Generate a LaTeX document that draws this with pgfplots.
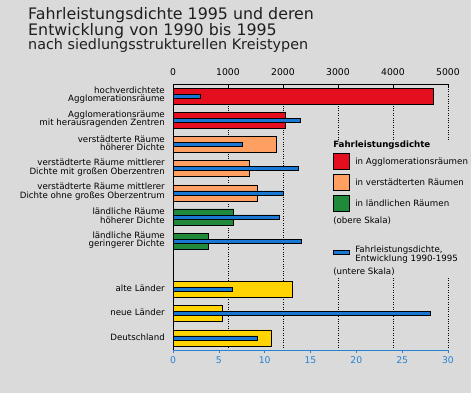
\documentclass[border=0pt]{standalone}
\usepackage{fontspec}
\setmainfont{DejaVu Sans}
\usepackage{pgfplots}
\pgfplotsset{compat=1.18}
\definecolor{bg}{RGB}{218,218,218}
\definecolor{cred}{RGB}{228,14,30}
\definecolor{corange}{RGB}{255,160,98}
\definecolor{cgreen}{RGB}{30,138,58}
\definecolor{cyellow}{RGB}{255,212,0}
\definecolor{cblue}{RGB}{24,120,212}
\definecolor{ctick}{RGB}{40,130,210}
\pgfplotsset{
  sqlegend/.style={legend image code/.code={\draw[##1] (0bp,-8bp) rectangle (16bp,8bp);}},
  barlegend/.style={legend image code/.code={\draw[##1] (0bp,-2bp) rectangle (16bp,2bp);}},
}
\newcommand{\lf}{\fontsize{8.7}{8.5}\selectfont}
\newcommand{\tf}{\fontsize{9.3}{10}\selectfont}
\begin{document}
\begin{tikzpicture}
\path[use as bounding box, fill=bg] (0,0) rectangle (471bp,393bp);
\node[anchor=base west, inner sep=0pt, text=black!88] at (28bp,373bp) {\fontsize{15.9}{16}\selectfont Fahrleistungsdichte 1995 und deren};
\node[anchor=base west, inner sep=0pt, text=black!88] at (28bp,357.5bp) {\fontsize{15.9}{16}\selectfont Entwicklung von 1990 bis 1995};
\node[anchor=base west, inner sep=0pt, text=black!88] at (28bp,343bp) {\fontsize{14.4}{14}\selectfont nach siedlungsstrukturellen Kreistypen};

\begin{axis}[
  at={(173bp,43bp)}, anchor=south west, scale only axis,
  width=275bp, height=266bp,
  xmin=0, xmax=5000, ymin=-0.5, ymax=10.5,
  axis x line*=top, axis y line*=left,
  axis line style={black, line width=0.8bp, -},
  xtick={0,1000,...,5000},
  /pgf/number format/set thousands separator={},
  /pgf/number format/assume math mode=true,
  xticklabel style={font=\tf, yshift=4.5bp},
  xmajorgrids, major grid style={black, dotted, line width=0.7bp},
  tick align=inside, major tick length=3bp,
  xtick style={black, line width=0.6bp},
  ytick={10,9,8,7,6,5,4,2,1,0},
  yticklabels={{hochverdichtete\\Agglomerationsräume},
    {Agglomerationsräume\\mit herausragenden Zentren},
    {verstädterte Räume\\höherer Dichte},
    {verstädterte Räume mittlerer\\Dichte mit großen Oberzentren},
    {verstädterte Räume mittlerer\\Dichte ohne großes Oberzentrum},
    {ländliche Räume\\höherer Dichte},
    {ländliche Räume\\geringerer Dichte},
    {alte Länder}, {neue Länder}, {Deutschland}},
  yticklabel style={font=\lf, align=right, inner sep=0pt, xshift=-5bp, yshift=1bp},
  ytick style={draw=none},
  xbar, bar width=16bp,
  legend cell align=left,
  legend style={at={(axis description cs:0.5818,0.7876)}, anchor=north west,
    draw=none, fill=bg, inner sep=0pt, row sep=4.5bp, column sep=5.5bp,
    font=\lf, nodes={inner sep=0pt}},
]
\addplot[bar shift=0pt, fill=cred, draw=black, line width=0.6bp, forget plot] coordinates {(4730,10) (2040,9)};
\addplot[bar shift=0pt, fill=corange, draw=black, line width=0.6bp, forget plot] coordinates {(1880,8) (1390,7) (1530,6)};
\addplot[bar shift=0pt, fill=cgreen, draw=black, line width=0.6bp, forget plot] coordinates {(1100,5) (640,4)};
\addplot[bar shift=0pt, fill=cyellow, draw=black, line width=0.6bp, forget plot] coordinates {(2170,2) (900,1) (1790,0)};
\addlegendimage{empty legend}
\addlegendentry{\hspace*{-22bp}\textbf{Fahrleistungsdichte}}
\addlegendimage{fill=cred, draw=black, line width=0.6bp, sqlegend}
\addlegendentry{in Agglomerationsräumen}
\addlegendimage{fill=corange, draw=black, line width=0.6bp, sqlegend}
\addlegendentry{in verstädterten Räumen}
\addlegendimage{fill=cgreen, draw=black, line width=0.6bp, sqlegend}
\addlegendentry{in ländlichen Räumen}
\addlegendimage{empty legend}
\addlegendentry{\hspace*{-22bp}(obere Skala)}
\addlegendimage{empty legend}
\addlegendentry{\rule{0pt}{14bp}}
\node[anchor=base east, inner sep=0pt, font=\fontsize{10.5}{10}\selectfont\itshape] at ([yshift=27bp]axis description cs:0.982,1) {1000 Kfz-km/km²};
\end{axis}

\begin{axis}[
  at={(173bp,43bp)}, anchor=south west, scale only axis,
  width=275bp, height=266bp,
  xmin=0, xmax=30, ymin=-0.5, ymax=10.5,
  axis x line*=bottom, axis y line=none,
  axis line style={ctick, line width=0.8bp, -},
  xtick={0,5,...,30}, ytick=\empty,
  /pgf/number format/assume math mode=true,
  xticklabel style={font=\tf, text=ctick},
  tick align=outside, major tick length=3bp,
  xtick style={ctick, line width=0.6bp},
  xbar, bar width=4bp,
  legend cell align=left,
  legend style={at={(axis description cs:0.5818,0.3945)}, anchor=north west,
    draw=none, fill=bg, inner sep=0pt, row sep=9bp, column sep=5.5bp,
    font=\lf, nodes={inner sep=0pt}},
]
\addplot[bar shift=0pt, fill=cblue, draw=black, line width=0.6bp, barlegend]
  coordinates {(3.0,10) (13.9,9) (7.6,8) (13.7,7) (12.0,6) (11.6,5) (14.0,4) (6.5,2) (28.1,1) (9.2,0)};
\addlegendentry{{\def\arraystretch{1.15}\begin{tabular}{@{}l@{}}Fahrleistungsdichte,\\Entwicklung 1990-1995\end{tabular}}}
\addlegendimage{empty legend}
\addlegendentry{\hspace*{-22bp}(untere Skala)}
\node[anchor=center, inner sep=0pt, text=ctick, font=\fontsize{10}{10}\selectfont\itshape] at (axis description cs:0.924,-0.0816) {in \%};
\end{axis}
\end{tikzpicture}
\end{document}
